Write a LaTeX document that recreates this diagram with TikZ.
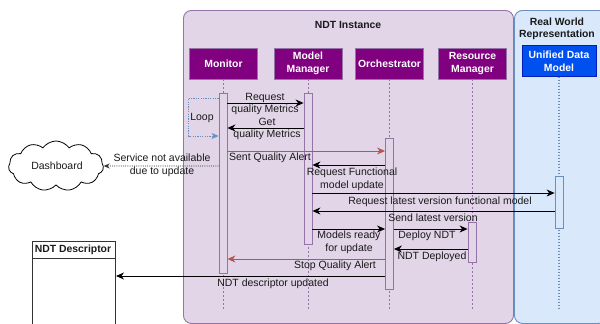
\documentclass[tikz,border=0pt]{standalone}
\usepackage{fontspec}
\setmainfont{Liberation Sans}
\usetikzlibrary{arrows.meta,shapes.symbols}
\definecolor{pfill}{HTML}{E1D5E7}
\definecolor{pline}{HTML}{9673A6}
\definecolor{bfill}{HTML}{DAE8FC}
\definecolor{bline}{HTML}{6C8EBF}
\definecolor{hdr}{HTML}{800080}
\definecolor{udm}{HTML}{0050EF}
\definecolor{udmline}{HTML}{001DBC}
\definecolor{redl}{HTML}{B85450}
\definecolor{txt}{HTML}{1A1A1A}
\tikzset{
  lbl/.style={font=\fontsize{10.5}{12.5}\selectfont, text=txt, inner sep=0pt, align=center},
  blbl/.style={lbl, font=\fontsize{10.4}{12.5}\selectfont\bfseries},
  hdrbox/.style={draw=pline, fill=hdr, text=white, font=\fontsize{10.4}{13}\selectfont\bfseries,
    minimum width=68pt, minimum height=31pt, align=center, inner sep=0pt},
  bar/.style={draw=pline, fill=pfill, minimum width=8pt, inner sep=0pt, line width=0.8pt},
  msg/.style={-{Stealth[length=8pt,width=7pt,inset=2.5pt]}, line width=1pt, draw=black},
  redmsg/.style={msg, draw=redl},
  life/.style={draw=pline, dash pattern=on 2pt off 2pt, line width=0.6pt},
  container/.style={rounded corners=8pt, line width=0.9pt, inner sep=0pt, anchor=north west}
}
\begin{document}
\begin{tikzpicture}[x=1pt,y=-1pt]
\useasboundingbox (0,0) rectangle (600,324);
\fill[white] (0,0) rectangle (600,324);
% containers
\node[container, draw=pline, fill=pfill, minimum width=330pt, minimum height=313pt] (inst) at (183,10) {};
\node[container, draw=bline, fill=bfill, minimum width=92pt, minimum height=313pt] (rwr) at (514,10) {};
\node[blbl] (insttitle) at (348,25) {NDT Instance};
\node[blbl] (rwrtitle) at (557,29) {Real World\\Representation};
% headers
\node[hdrbox] (mon) at (223.5,63.5) {Monitor};
\node[hdrbox] (mm) at (308,63.5) {Model\\Manager};
\node[hdrbox] (orch) at (389.5,63.5) {Orchestrator};
\node[hdrbox] (rm) at (472.5,63.5) {Resource\\Manager};
\node[draw=udmline, fill=udm, text=white, font=\fontsize{10.4}{13}\selectfont\bfseries,
  minimum width=74pt, minimum height=31pt, align=center, inner sep=0pt] (udmh) at (559,61) {Unified Data\\Model};
% lifeline ends
\coordinate (monend) at (223,311);
\coordinate (mmend) at (308,311);
\coordinate (orchend) at (389.5,311);
\coordinate (rmend) at (472,311);
\coordinate (udmend) at (559,310);
\draw[life] (mon.south -| monend) -- (monend);
\draw[life] (mm.south -| mmend) -- (mmend);
\draw[life] (orch.south -| orchend) -- (orchend);
\draw[life] (rm.south -| rmend) -- (rmend);
\draw[draw=bline, dash pattern=on 1.5pt off 1.5pt, line width=1.2pt] (udmh.south -| udmend) -- (udmend);
% activation bars
\node[bar, minimum height=180pt] (monbar) at (223,183) {};
\node[bar, minimum height=151pt] (mmbar) at (308,168.5) {};
\node[bar, minimum height=151pt] (orbar) at (389.5,213.5) {};
\node[bar, minimum height=40pt] (rmbar) at (472,242) {};
\node[bar, draw=bline, fill=bfill, minimum height=52pt] (udmbar) at (559,202) {};
% other shapes
\node[cloud, draw=black, fill=white, cloud puffs=11, cloud puff arc=110, aspect=1.8,
  minimum width=95pt, minimum height=50pt, inner sep=0pt, line width=0.8pt] (dash) at (56,166) {};
\node[lbl] (dashtxt) at (57,166) {Dashboard};
\node[draw=black!80, fill=white, line width=1pt, minimum width=83pt, minimum height=90pt,
  inner sep=0pt, anchor=north west] (ndtdesc) at (32,241) {};
\draw[black!80, line width=1pt] (ndtdesc.west |- 0,258) -- (ndtdesc.east |- 0,258);
\node[blbl] (ndtdesctitle) at (73,249.5) {NDT Descriptor};
% messages
\draw[msg] (monbar.east |- 0,103) -- (mmbar.west |- 0,103);
\draw[msg] (mmbar.west |- 0,128) -- (monbar.east |- 0,128);
\draw[draw=bline, dash pattern=on 1.2pt off 1.2pt, line width=1pt,
  -{Stealth[length=7pt,width=6pt,inset=2pt]}]
  (monbar.west |- 0,98) -- ++(-30,0) -- ++(0,38) -- (monbar.west |- 0,136);
\draw[redmsg] (monbar.east |- 0,151) -- (orbar.west |- 0,151);
\draw[draw=black!80, dash pattern=on 1pt off 1.2pt, line width=0.8pt,
  -{Stealth[length=6pt,width=5pt,inset=2pt]}] (monbar.west |- 0,166) -- (dash.east);
\draw[msg] (orbar.west |- 0,165) -- (mmbar.east |- 0,165);
\draw[msg] (mmbar.east |- 0,193) -- (udmbar.west |- 0,193);
\draw[msg] (udmbar.west |- 0,211) -- (mmbar.east |- 0,211);
\draw[msg] (mmbar.east |- 0,229) -- (orbar.west |- 0,229);
\draw[msg] (orbar.east |- 0,229) -- (rmbar.west |- 0,229);
\draw[msg] (rmbar.west |- 0,249) -- (orbar.east |- 0,249);
\draw[redmsg] (orbar.west |- 0,259) -- (monbar.east |- 0,259);
\draw[msg] (orbar.west |- 0,276) -- (ndtdesc.east |- 0,276);
% labels
\node[lbl] (l1) at (265,104) {Request\\quality Metrics};
\node[lbl] (l2) at (267,129) {Get\\quality Metrics};
\node[lbl] (lloop) at (202,118) {Loop};
\node[lbl] (l3) at (270,158) {Sent Quality Alert};
\node[lbl] (l4) at (162,165.5) {Service not available\\due to update};
\node[lbl] (l5) at (352,179.5) {Request Functional\\model update};
\node[lbl] (l6) at (440,202) {Request latest version functional model};
\node[lbl] (l7) at (433,218) {Send latest version};
\node[lbl] (l8) at (349,242.5) {Models ready\\for update};
\node[lbl] (l9) at (427,236) {Deploy NDT};
\node[lbl] (l10) at (432,257) {NDT Deployed};
\node[lbl] (l11) at (335,266) {Stop Quality Alert};
\node[lbl] (l12) at (273,284) {NDT descriptor updated};
\end{tikzpicture}
\end{document}
